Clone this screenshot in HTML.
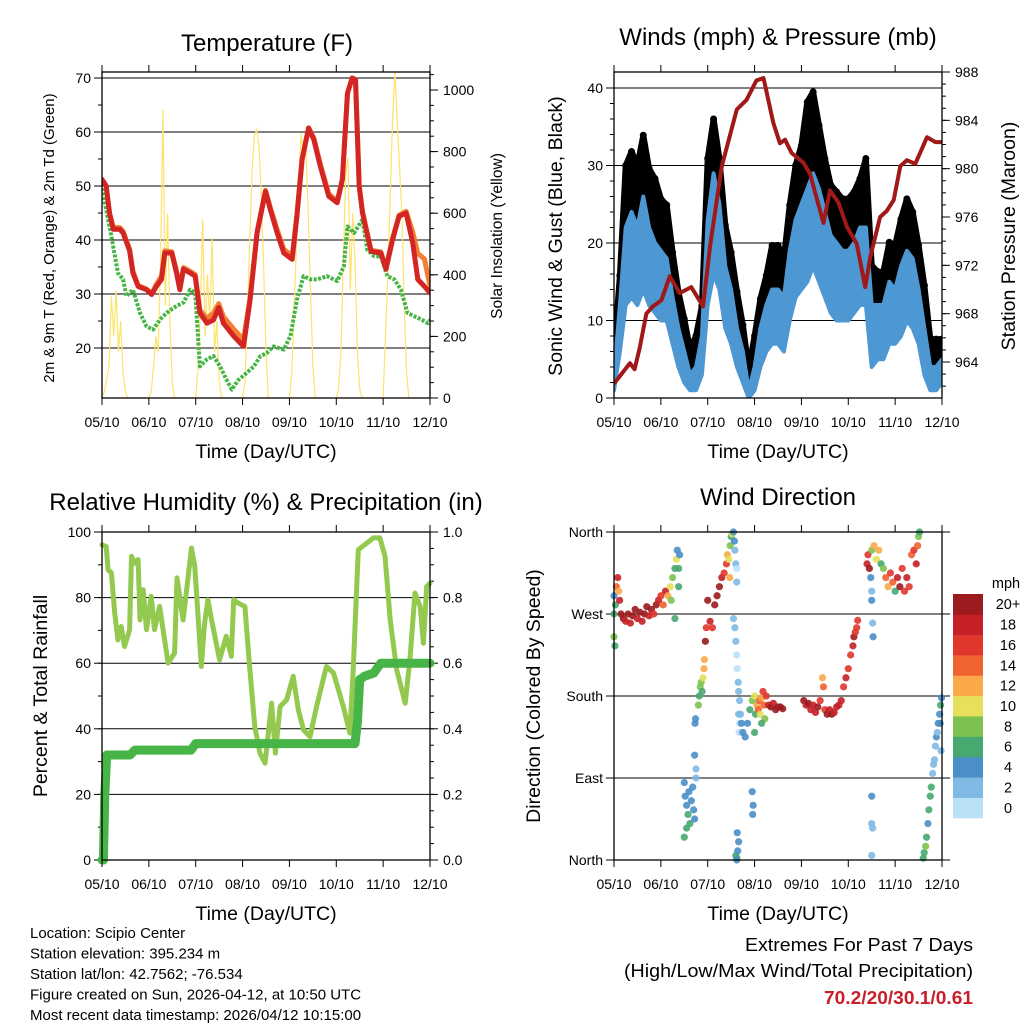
<!DOCTYPE html>
<html><head><meta charset="utf-8">
<style>
html,body{margin:0;padding:0;background:#fff;}
svg{display:block;font-family:"Liberation Sans",Arial,sans-serif;}
</style></head>
<body>
<svg id="chart" width="1024" height="1024" viewBox="0 0 1024 1024" xmlns="http://www.w3.org/2000/svg"></svg>
<script>
// ---------- DATA ----------
const xTickLabels = ["05/10","06/10","07/10","08/10","09/10","10/10","11/10","12/10"];
// Temperature panel
const tempT = [0,0.09,0.16,0.24,0.38,0.45,0.59,0.66,0.77,0.95,1.06,1.16,1.27,1.34,1.49,1.59,1.66,1.74,1.88,1.99,2.09,2.24,2.38,2.49,2.59,2.81,3.02,3.16,3.31,3.49,3.59,3.74,3.88,4.06,4.16,4.27,4.41,4.52,4.66,4.84,5.02,5.13,5.24,5.34,5.41,5.49,5.56,5.74,5.95,6.06,6.2,6.34,6.49,6.63,6.74,6.88,7.0];
const temp2m = [51.2,50,45,42,42,41.3,38,33.9,31.4,30.8,29.9,31.4,32.7,37.6,37.6,33.9,30.8,34.6,33.9,33.3,26.5,24.6,25.2,27.5,24.6,22.2,20.3,28.9,41.3,49,45.7,41.3,37.6,36.4,44.4,54.9,60.7,58.6,53.6,48.1,46.9,51.2,67.2,70,69.7,49.9,45,37.9,37.6,34.6,40,44.4,45,39.5,32.7,31.4,30.2];
const temp9m = [51.2,50,45,42.3,42.3,41.6,38.3,34.2,31.6,30.9,30.1,31.8,33.3,38,37.8,34.3,31.2,34.9,34.2,33.6,27,25.5,26.5,28.2,25.8,23.5,21.5,29.3,41.6,49.2,46.1,41.9,38.3,37,44.6,55,60.8,58.9,54,48.5,47.2,51.4,67.2,70,69.7,50.1,45.3,38.1,37.8,34.8,40.3,44.6,45.3,41.5,37.5,36.5,31.5];
const tdT = [0,0.16,0.24,0.34,0.45,0.52,0.66,0.81,0.95,1.09,1.24,1.38,1.59,1.74,1.88,1.99,2.09,2.24,2.38,2.52,2.66,2.77,2.91,3.09,3.24,3.38,3.52,3.66,3.88,4.02,4.16,4.3,4.45,4.59,4.8,5.02,5.16,5.24,5.38,5.56,5.66,5.81,5.95,6.09,6.24,6.38,6.52,6.66,6.81,6.95,7.02];
const td2m = [49.6,42.5,38.8,33.9,32.7,29.6,30.8,26.5,24,23.4,25.3,26.5,27.8,28.4,30.8,30.2,16.6,17.9,18.5,16.6,14.1,12.3,14.1,15.4,16.6,18.5,19.1,20.3,19.7,22.2,28.9,33.3,32.7,32.7,33.3,32.4,35.1,42.5,41.3,43.8,38.2,37,37,33.3,32.7,30.8,26.5,25.9,25.3,24.6,25.3];
const solarOffsets = [0,0.05,0.1,0.15,0.2,0.25,0.3,0.35,0.4,0.45,0.5,0.55];
const solarDay0 = [0,20,60,100,330,200,350,150,250,80,20,0];
const solarDay1 = [0,20,100,200,150,450,935,300,600,250,50,0];
const solarDay2 = [0,100,300,580,200,400,250,520,150,250,60,0];
const solarDay3 = [0,50,250,500,720,850,870,820,650,420,150,0];
const solarDay4 = [0,80,300,500,700,860,780,830,600,350,100,0];
const solarDay5 = [0,30,150,450,720,780,350,600,450,150,30,0];
const solarDay6 = [0,200,400,650,900,1060,900,750,600,300,80,0];
const solarDays = [solarDay0,solarDay1,solarDay2,solarDay3,solarDay4,solarDay5,solarDay6];
// Wind panel (3-hourly)
const windStep = 0.125;
const gustTop = [5.9,15.8,30,31.8,30,33.9,29.6,28.3,25.7,24.9,18.8,13.7,10.2,6.3,8,11.9,30.9,36,30.9,22.3,18.8,13.7,9.4,3.8,8,12.8,15.8,19.7,19.7,18,24.9,30,32.6,38.2,39.5,35.2,30.9,27.5,26.6,25.7,25.7,26.6,28.3,30.9,17.1,16.3,16.3,20.1,19.7,23.1,25.7,24,19.7,14.5,7.6,7.6,7.6];
const windTop = [3,12,22,24,22,26,22,20,19,18,13,9,6,3,4,8,23,29,25,17,14,9,6,1,4,9,12,14,14,13,19,23,25,27,29,27,24,21,20,19,19,20,22,22,12,12,12,15,14,17,19,18,14,9,4,4,5];
const windLow = [1,6,12,13,12,14,12,11,10,10,7,4,2,1,1,3,12,16,14,9,7,4,2,0,1,4,6,7,7,6,10,13,14,15,17,15,13,11,10,10,10,11,12,12,4,5,5,7,7,8,10,9,7,3,1,1,2];
const presT = [0,0.34,0.44,0.55,0.69,0.83,1.01,1.19,1.40,1.65,1.90,2.05,2.30,2.62,2.83,3.04,3.19,3.40,3.54,3.65,3.79,4.04,4.18,4.47,4.61,4.79,4.97,5.18,5.36,5.47,5.68,5.82,5.97,6.11,6.25,6.43,6.68,6.86,7.0];
const presV = [962.2,963.9,963.4,965.2,968,968.6,969.1,971.1,969.7,970.2,968.6,973.6,980.2,984.9,985.7,987.3,987.5,983.8,982.1,982.4,981.3,980.5,979.6,975.5,978.2,977.2,975.2,973.8,970.2,972.7,976,976.5,977.4,980.2,980.7,980.4,982.6,982.2,982.2];
const windTickLabels = ["0","10","20","30","40"];
const presTickLabels = ["964","968","972","976","980","984","988"];
// RH panel
const rhT = [0,0.09,0.13,0.2,0.27,0.34,0.41,0.48,0.59,0.63,0.7,0.77,0.81,0.88,0.95,1.05,1.12,1.23,1.41,1.55,1.6,1.73,1.84,1.91,1.98,2.12,2.19,2.26,2.34,2.51,2.65,2.76,2.81,2.91,3.05,3.15,3.26,3.37,3.48,3.62,3.7,3.8,3.94,4.08,4.19,4.3,4.44,4.58,4.79,4.94,5.15,5.29,5.36,5.47,5.65,5.79,5.93,6.04,6.15,6.29,6.47,6.57,6.68,6.79,6.86,6.93,7.0];
const rhV = [96.1,95.6,88.5,87.5,75.3,67.1,71.2,65.1,70.2,92.6,90.5,91.6,73.2,82.4,70.2,80.4,70.2,77.3,60,63.1,86,73.2,86.5,95.1,89.5,59,72.2,79.3,73.2,61,68.2,62.1,79.3,78.3,77.3,59,40.7,32.6,29.5,47.8,32.6,46.8,48.8,56,45.8,39.7,37.6,46.8,59,57,46.8,38.7,58,94.6,96.6,98.2,98.2,92.6,73.2,58,47.8,61,81.4,77.3,66.1,83.4,84.4];
const rainT = [0,0.03,0.06,0.1,0.2,0.6,0.7,1.9,2.0,5.4,5.45,5.5,5.6,5.8,5.95,7.0];
const rainV = [0,0,0.2,0.32,0.32,0.32,0.335,0.335,0.355,0.355,0.42,0.55,0.56,0.57,0.6,0.6];
const rhTickLabels = ["0","20","40","60","80","100"];
const rainTickLabels = ["0.0","0.2","0.4","0.6","0.8","1.0"];
// Wind direction panel
const wdT = [0,0,0,0.02,0.03,0.05,0.08,0.1,0.12,0.15,0.2,0.25,0.3,0.35,0.4,0.45,0.5,0.55,0.6,0.65,0.7,0.75,0.8,0.85,0.9,0.95,1.0,1.05,1.1,1.15,1.2,1.22,1.25,1.3,1.33,1.35,1.38,1.4,1.3,1.38,
1.5,1.52,1.55,1.58,1.6,1.62,1.65,1.68,1.7,1.72,1.5,1.55,1.75,1.75,1.72,1.73,1.74,
1.8,1.82,1.84,1.86,1.88,1.9,1.92,1.93,1.95,1.97,
2.0,2.05,2.1,2.15,2.2,2.25,2.3,2.35,2.4,2.42,2.45,2.47,2.48,2.5,2.52,
2.55,2.57,2.58,2.6,2.62,2.62,2.55,2.58,2.6,2.62,2.63,2.65,2.66,2.68,2.66,2.68,2.67,2.6,2.62,2.64,2.66,2.63,2.62,
2.7,2.72,2.75,2.8,2.85,2.9,2.95,3.0,3.02,3.05,3.08,3.1,3.12,3.15,3.18,3.2,3.22,3.15,3.0,2.95,2.97,2.96,
3.25,3.3,3.35,3.4,3.45,3.5,3.55,3.6,4.05,4.1,4.15,4.2,4.25,4.3,4.35,4.4,4.45,4.47,4.5,4.55,4.6,4.65,4.7,4.75,4.8,4.85,
4.9,4.95,5.0,5.05,5.1,5.12,5.15,5.18,5.2,
5.48,5.5,5.5,5.52,5.53,5.5,5.5,5.52,5.5,
5.4,5.42,5.45,5.5,5.55,5.6,5.65,5.7,5.75,5.8,5.85,5.9,5.95,6.0,6.05,6.1,6.15,6.2,6.25,6.3,6.35,6.4,6.45,6.48,6.5,6.52,
6.6,6.62,6.65,6.67,6.7,6.72,6.75,6.77,6.8,6.82,6.84,6.86,6.88,6.9,6.92,6.95,6.97,6.99,6.96,6.98];
const wdDir = [290,270,245,235,280,300,310,295,285,270,265,262,270,260,268,275,265,272,262,270,278,268,275,270,280,285,290,280,295,290,300,285,310,320,330,340,320,335,265,300,
85,70,60,50,75,40,65,80,55,45,25,35,90,100,115,150,155,
170,180,190,195,185,200,210,220,240,255,
285,262,255,280,290,300,310,315,325,335,330,310,345,355,358,
360,350,340,325,305,320,265,255,240,225,210,195,185,175,160,150,140,5,2,10,20,30,0,
160,150,140,135,150,165,175,180,160,170,165,175,160,178,185,170,155,150,140,75,60,50,
180,170,168,172,165,168,168,166,175,170,172,165,170,162,168,175,200,190,165,160,165,160,162,168,170,175,
190,200,210,225,235,245,250,255,263,
310,295,285,260,245,70,40,35,5,
325,335,320,340,345,330,340,325,320,310,300,315,305,295,310,300,320,295,310,300,335,340,325,345,355,360,
2,8,15,25,40,55,70,80,95,105,110,125,135,140,150,160,170,178,150,120];
const wdSpeed = [4,6,8,7,6,14,18,12,18,20,20,19,20,18,20,20,19,20,18,20,20,18,20,17,20,18,16,14,18,12,10,8,9,7,10,4,6,4,7,6,
4,5,4,6,4,7,4,4,5,4,7,6,3,2,4,4,4,
8,7,8,8,7,11,12,13,20,17,
20,18,17,20,20,20,18,16,16,13,11,12,8,7,10,
4,4,3,2,2,1,2,2,2,1,1,2,2,2,2,1,1,6,7,4,4,4,5,
3,4,4,4,5,6,8,10,7,12,14,14,11,13,16,14,8,6,6,4,4,4,
17,18,20,18,20,20,20,20,20,18,20,19,18,19,20,16,12,14,17,20,18,20,19,18,18,18,
17,18,17,16,18,20,16,17,16,
4,3,4,3,4,4,2,2,2,
18,16,20,8,12,10,12,6,8,14,12,16,14,6,18,20,17,16,18,17,14,16,18,14,8,7,
7,7,8,6,4,6,7,6,2,2,2,3,4,3,4,4,6,4,4,2];
const speedBinLabels = ["0","2","4","6","8","10","12","14","16","18","20+"];
const dirTickLabels = ["North","East","South","West","North"];
const binColors = ["#b9e1f7","#80b9e4","#4a8fc8","#47a96f","#7dc250","#e6e05a","#f9a94a","#f06230","#e0362c","#c42026","#9b1b1e"];

// ---------- DRAW ----------
const NS = "http://www.w3.org/2000/svg";
const svg = document.getElementById("chart");
function mk(tag, attrs, parent){
  const e = document.createElementNS(NS, tag);
  for (const k in attrs) e.setAttribute(k, attrs[k]);
  (parent||svg).appendChild(e);
  return e;
}
function txt(s, x, y, size, anchor, parent, extra){
  const e = mk("text", Object.assign({x:x, y:y, "font-size":size, "text-anchor":anchor||"middle", fill:"#000"}, extra||{}), parent);
  e.textContent = s;
  return e;
}
function lin(d0,d1,r0,r1){ return v => r0 + (v-d0)/(d1-d0)*(r1-r0); }

function makePanel(name, x0, x1, y0, y1){
  const g = mk("g", {});
  
  
  const xs = lin(0, 7, x0, x1);
  return {g, xs, x0, x1, y0, y1};
}
function xAxis(p){
  const ax = mk("g", {}, p.g);
  
  
  xTickLabels.forEach((l, i) => {
    const x = p.xs(i);
    mk("line", {x1:x, x2:x, y1:p.y1, y2:p.y1+7, stroke:"#000", "stroke-width":1}, ax);
    mk("line", {x1:x, x2:x, y1:p.y0, y2:p.y0-7, stroke:"#000", "stroke-width":1}, ax);
    const t = txt(l, x, p.y1+29, 14, "middle", ax);
    
    
  });
  const tt = txt("Time (Day/UTC)", (p.x0+p.x1)/2, p.y1+60, 19.5, "middle", ax);
  
  
}
function frame(p){
  const r = mk("rect", {x:p.x0, y:p.y0, width:p.x1-p.x0, height:p.y1-p.y0, fill:"none", stroke:"#000", "stroke-width":1.3}, p.g);
  
  
}
function leftAxis(p, ys, vals, labels, grid, minorStep){
  const ax = mk("g", {}, p.g);
  
  
  vals.forEach((v, i) => {
    const y = ys(v);
    mk("line", {x1:p.x0-8, x2:p.x0, y1:y, y2:y, stroke:"#000"}, ax);
    if (grid) mk("line", {x1:p.x0, x2:p.x1, y1:y, y2:y, stroke:"#000", "stroke-width":1}, ax);
    const t = txt(labels[i], p.x0-11, y+5, 14, "end", ax);
    
    
  });
  if (minorStep){
    for (let v = vals[0]; v <= vals[vals.length-1]; v += minorStep){
      mk("line", {x1:p.x0-4, x2:p.x0, y1:ys(v), y2:ys(v), stroke:"#000"}, ax);
    }
  }
}
function rightAxis(p, ys, vals, labels, minorStep, lo, hi){
  const ax = mk("g", {}, p.g);
  
  
  vals.forEach((v, i) => {
    const y = ys(v);
    mk("line", {x1:p.x1, x2:p.x1+8, y1:y, y2:y, stroke:"#000"}, ax);
    const t = txt(labels[i], p.x1+13, y+5, 14, "start", ax);
    
    
  });
  if (minorStep){
    for (let v = lo; v <= hi; v += minorStep){
      const y = ys(v);
      if (y >= p.y0 && y <= p.y1) mk("line", {x1:p.x1, x2:p.x1+4, y1:y, y2:y, stroke:"#000"}, ax);
    }
  }
}
function vtitle(s, x, y, size, name){
  const t = txt(s, x, y, size, "middle", svg, {transform:`rotate(-90 ${x} ${y})`});
  
  
}
function title(s, x, y, name){
  const t = txt(s, x, y, 24, "middle");
  
  
}
function pathD(ts, vs, xs, ys){ return ts.map((t,i)=> (i?"L":"M")+xs(t).toFixed(1)+","+ys(vs[i]).toFixed(1)).join(""); }

// ===== Panel 1: Temperature =====
(function(){
  const p = makePanel("temperature-panel", 102, 430, 72, 398);
  const ys = lin(20, 70, 348, 78);
  const ysSolar = lin(0, 1000, 398, 90);
  const clip = mk("clipPath", {id:"c1"}, p.g); mk("rect", {x:p.x0, y:p.y0, width:p.x1-p.x0, height:p.y1-p.y0}, clip);
  leftAxis(p, ys, [20,30,40,50,60,70], ["20","30","40","50","60","70"], true, 5);
  rightAxis(p, ysSolar, [0,200,400,600,800,1000], ["0","200","400","600","800","1000"], 50, 0, 1050);
  const data = mk("g", {"clip-path":"url(#c1)"}, p.g);
  const sT = [], sV = [];
  solarDays.forEach((arr, d) => arr.forEach((v, k) => { sT.push(d + solarOffsets[k]); sV.push(v); }));
  const sol = mk("path", {d:pathD(sT, sV, p.xs, ysSolar), fill:"none", stroke:"#fde36a", "stroke-width":1.2}, data);
  
  
  const td = mk("path", {d:pathD(tdT, td2m, p.xs, ys), fill:"none", stroke:"#46b446", "stroke-width":4, "stroke-dasharray":"3 1.5", "stroke-linejoin":"round"}, data);
  
  
  const t9 = mk("path", {d:pathD(tempT, temp9m, p.xs, ys), fill:"none", stroke:"#f47f32", "stroke-width":5, "stroke-linejoin":"round", "stroke-linecap":"round"}, data);
  
  
  const t2 = mk("path", {d:pathD(tempT, temp2m, p.xs, ys), fill:"none", stroke:"#d42525", "stroke-width":5, "stroke-linejoin":"round", "stroke-linecap":"round"}, data);
  
  
  frame(p);
  xAxis(p);
  title("Temperature (F)", 267, 51, "temperature-title");
  vtitle("2m & 9m T (Red, Orange) & 2m Td (Green)", 54, 238, 15, "temperature-y-axis-title");
  vtitle("Solar Insolation (Yellow)", 502, 236, 15.5, "solar-y-axis-title");
})();

// ===== Panel 2: Winds & Pressure =====
(function(){
  const p = makePanel("winds-panel", 614, 942, 72, 398);
  const ys = lin(0, 40, 398, 88);
  const ysP = lin(964, 988, 362, 72);
  const clip = mk("clipPath", {id:"c2"}, p.g); mk("rect", {x:p.x0, y:p.y0, width:p.x1-p.x0, height:p.y1-p.y0}, clip);
  leftAxis(p, ys, [0,10,20,30,40], windTickLabels, true, 2);
  rightAxis(p, ysP, [964,968,972,976,980,984,988], presTickLabels, 1, 961, 988);
  const data = mk("g", {"clip-path":"url(#c2)"}, p.g);
  const wt = gustTop.map((_, i) => i*windStep);
  let d = pathD(wt, gustTop, p.xs, ys) + wt.slice().reverse().map((t,i)=>"L"+p.xs(t).toFixed(1)+","+ys(windTop[wt.length-1-i]).toFixed(1)).join("") + "Z";
  const gb = mk("path", {d, fill:"#000", stroke:"#000", "stroke-width":6, "stroke-linejoin":"round"}, data);
  
  
  gustTop.forEach((v, i) => {
    const c = mk("circle", {cx:p.xs(wt[i]), cy:ys(v), r:3.5, fill:"#000"}, data);
    
    
  });
  d = pathD(wt, windTop, p.xs, ys) + wt.slice().reverse().map((t,i)=>"L"+p.xs(t).toFixed(1)+","+ys(windLow[wt.length-1-i]).toFixed(1)).join("") + "Z";
  const wb = mk("path", {d, fill:"#4d97d3", stroke:"#4d97d3", "stroke-width":4, "stroke-linejoin":"round"}, data);
  
  
  const pl = mk("path", {d:pathD(presT, presV, p.xs, ysP), fill:"none", stroke:"#a01818", "stroke-width":4, "stroke-linejoin":"round"}, data);
  
  
  frame(p);
  xAxis(p);
  title("Winds (mph) & Pressure (mb)", 778, 45, "winds-title");
  vtitle("Sonic Wind & Gust (Blue, Black)", 562, 236, 19.5, "wind-y-axis-title");
  vtitle("Station Pressure (Maroon)", 1015, 236, 19.5, "pressure-y-axis-title");
})();

// ===== Panel 3: RH & Precip =====
(function(){
  const p = makePanel("humidity-panel", 102, 430, 532, 860);
  const ys = lin(0, 100, 860, 532);
  const ysR = lin(0, 1, 860, 532);
  const clip = mk("clipPath", {id:"c3"}, p.g); mk("rect", {x:p.x0-6, y:p.y0, width:p.x1-p.x0+12, height:p.y1-p.y0+6}, clip);
  leftAxis(p, ys, [0,20,40,60,80,100], rhTickLabels, true, 10);
  rightAxis(p, ysR, [0,0.2,0.4,0.6,0.8,1.0], rainTickLabels, 0.05, 0, 1.0001);
  const data = mk("g", {"clip-path":"url(#c3)"}, p.g);
  const rh = mk("path", {d:pathD(rhT, rhV, p.xs, ys), fill:"none", stroke:"#93c94f", "stroke-width":5, "stroke-linejoin":"round", "stroke-linecap":"round"}, data);
  
  
  const rn = mk("path", {d:pathD(rainT, rainV, p.xs, ysR), fill:"none", stroke:"#46b446", "stroke-width":9, "stroke-linejoin":"round", "stroke-linecap":"round"}, data);
  
  
  frame(p);
  xAxis(p);
  title("Relative Humidity (%) & Precipitation (in)", 266, 510, "humidity-title");
  vtitle("Percent & Total Rainfall", 47, 696, 19.5, "humidity-y-axis-title");
})();

// ===== Panel 4: Wind direction =====
(function(){
  const p = makePanel("wind-direction-panel", 614, 942, 532, 860);
  const ys = lin(0, 360, 860, 532);
  leftAxis(p, ys, [0,90,180,270,360], dirTickLabels, true, 0);
  const ax = mk("g", {}, p.g);
  [0,90,180,270,360].forEach(v => mk("line", {x1:p.x1, x2:p.x1+8, y1:ys(v), y2:ys(v), stroke:"#000"}, ax));
  const clip = mk("clipPath", {id:"c4"}, p.g); mk("rect", {x:p.x0-5, y:p.y0-5, width:p.x1-p.x0+10, height:p.y1-p.y0+10}, clip);
  const data = mk("g", {"clip-path":"url(#c4)"}, p.g);
  wdT.forEach((t, i) => {
    const bin = Math.min(10, Math.floor(wdSpeed[i]/2));
    const c = mk("circle", {cx:p.xs(t), cy:ys(wdDir[i]), r:3.6, fill:binColors[bin], "fill-opacity":0.9}, data);
    
    
  });
  frame(p);
  xAxis(p);
  title("Wind Direction", 778, 505, "wind-direction-title");
  vtitle("Direction (Colored By Speed)", 540, 696, 19.5, "direction-y-axis-title");
  const cb = mk("g", {});
  
  
  const h = (818-594)/11;
  speedBinLabels.forEach((l, i) => {
    const y = 818 - (i+1)*h;
    const r = mk("rect", {x:953, y:y, width:30, height:h+0.3, fill:binColors[i]}, cb);
    
    
    const t = txt(l, 1008, y+h/2+5, 14.5, "middle", cb);
    
    
  });
  const u = txt("mph", 1006, 588, 14.5, "middle", cb);
  
  
})();

// ===== Footer text =====
const footer = ["Location: Scipio Center","Station elevation: 395.234 m","Station lat/lon: 42.7562; -76.534","Figure created on Sun, 2026-04-12, at 10:50 UTC","Most recent data timestamp: 2026/04/12 10:15:00"];
footer.forEach((s, i) => {
  const t = txt(s, 30, 938 + i*20.5, 15, "start");
  
  
});
const e1 = txt("Extremes For Past 7 Days", 973, 951, 18, "end", svg, {textLength:228, lengthAdjust:"spacingAndGlyphs"});


const e2 = txt("(High/Low/Max Wind/Total Precipitation)", 973, 977, 18, "end", svg, {textLength:349, lengthAdjust:"spacingAndGlyphs"});


const e3 = txt("70.2/20/30.1/0.61", 973, 1004, 18, "end", svg, {fill:"#c8202a", "font-weight":"bold", textLength:149, lengthAdjust:"spacingAndGlyphs"});


</script>
</body></html>
